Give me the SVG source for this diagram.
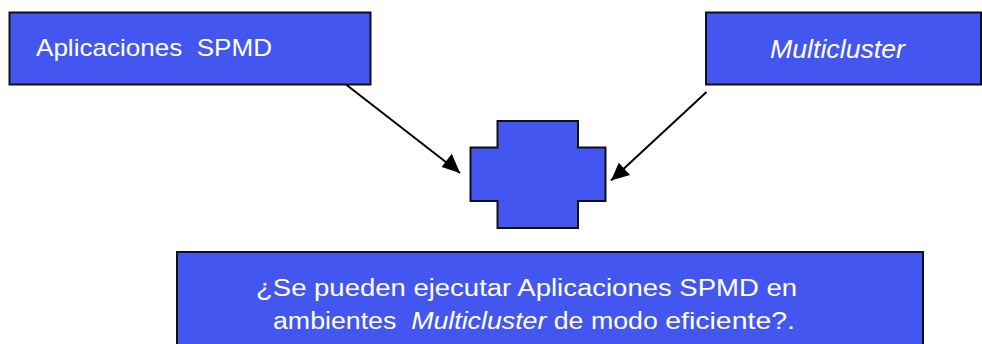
<svg xmlns="http://www.w3.org/2000/svg" width="982" height="344" viewBox="0 0 982 344">
<defs>
<style>
.box{fill:#4357F0;stroke:#111;stroke-width:2}
.t{fill:#fff;font-family:"Liberation Sans",Arial,sans-serif;white-space:pre}
.i{font-style:italic}
.c{stroke:#000;stroke-width:2;fill:none}
</style>
</defs>
<g id="node-spmd">
<rect class="box" x="9.5" y="12.5" width="361" height="72"/>
<text class="t" x="36" y="56" font-size="24" textLength="236" lengthAdjust="spacingAndGlyphs" xml:space="preserve">Aplicaciones  SPMD</text>
</g>
<g id="node-multicluster">
<rect class="box" x="706" y="12.5" width="275" height="72"/>
<text class="t i" x="770" y="58" font-size="25" textLength="135" lengthAdjust="spacingAndGlyphs">Multicluster</text>
</g>
<g id="node-cross">
<path class="box" d="M497.5,121 H578 V147.5 H605.5 V201 H578 V228 H497.5 V201 H470.5 V147.5 H497.5 Z"/>
</g>
<g id="node-question">
<rect class="box" x="177" y="252" width="746" height="100"/>
<text class="t" x="256" y="295.5" font-size="23" textLength="541" lengthAdjust="spacingAndGlyphs">¿Se pueden ejecutar Aplicaciones SPMD en</text>
<text class="t" x="273" y="329" font-size="23" textLength="522" lengthAdjust="spacingAndGlyphs" xml:space="preserve">ambientes  <tspan class="i">Multicluster</tspan> de modo <tspan font-size="24.5">eficiente?.</tspan></text>
</g>
<g id="connectors">
<line class="c" x1="346" y1="84.5" x2="460" y2="173"/>
<line class="c" x1="706.5" y1="92" x2="611" y2="180.5"/>
<path d="M460,173 L441.6,166.9 L451.8,153.8 Z" fill="#000"/>
<path d="M611,180.5 L618.8,162.7 L630.1,174.9 Z" fill="#000"/>
</g>
</svg>
